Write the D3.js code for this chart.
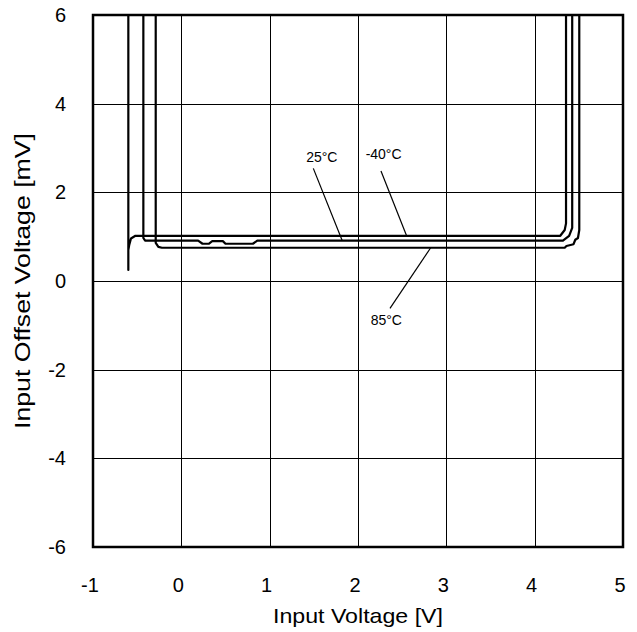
<!DOCTYPE html>
<html>
<head>
<meta charset="utf-8">
<title>Input Offset Voltage vs Input Voltage</title>
<script src="https://d3js.org/d3.v7.min.js"></script>
<style>
body { margin: 0; background: #fff; }
text { font-family: "Liberation Sans", Arial, sans-serif; fill: #000; }
.grid line { stroke: #000; stroke-width: 1px; shape-rendering: crispEdges; }
.frame { fill: none; stroke: #000; stroke-width: 2.5px; }
.curve { fill: none; stroke: #000; stroke-width: 2.2px; stroke-linejoin: round; }
.leader { stroke: #000; stroke-width: 1.2px; }
</style>
</head>
<body>
<script>
// axis ticks
var xTicks = [-1, 0, 1, 2, 3, 4, 5];
var yTicks = [-6, -4, -2, 0, 2, 4, 6];

// -40C
var vinM40 = [-0.6, -0.6, -0.6, -0.59, -0.57, -0.52, 4.29, 4.34, 4.355, 4.355];
var vosM40 = [6, 0.25, 0.7, 0.81, 0.96, 1.02, 1.02, 1.15, 1.3, 6];
// 25C
var vin25 = [-0.43, -0.43, -0.41, 0.19, 0.24, 0.31, 0.35, 0.47, 0.5, 0.81, 0.86, 4.32, 4.39, 4.425, 4.425];
var vos25 = [6, 0.97, 0.91, 0.91, 0.84, 0.84, 0.9, 0.9, 0.84, 0.84, 0.91, 0.91, 1.02, 1.2, 6];
// 85C
var vin85 = [-0.29, -0.29, -0.26, -0.22, 4.34, 4.36, 4.44, 4.46, 4.49, 4.505, 4.505];
var vos85 = [6, 0.86, 0.77, 0.75, 0.75, 0.79, 0.83, 0.93, 0.97, 1.15, 6];

// labels: text, text position, leader start, leader end (data coords)
var labelText = ["25\u00B0C", "-40\u00B0C", "85\u00B0C"];
var labelPos = [[1.59, 2.68], [2.29, 2.76], [2.32, -1.0]];
var leaderFrom = [[1.494, 2.54], [2.26, 2.48], [2.362, -0.616]];
var leaderTo = [[1.822, 0.91], [2.55, 1.02], [2.823, 0.75]];

var width = 637, height = 632;
var margin = {left: 93, right: 14, top: 15, bottom: 85};

var svg = d3.select("body").append("svg")
    .attr("width", width)
    .attr("height", height);

var x = d3.scaleLinear().domain([-1, 5]).range([margin.left, width - margin.right]);
var y = d3.scaleLinear().domain([-6, 6]).range([height - margin.bottom, margin.top]);

// grid
var grid = svg.append("g").attr("class", "grid");
grid.selectAll("line.v")
    .data(xTicks.slice(1, -1))
  .enter().append("line")
    .attr("x1", function(d) { return Math.round(x(d)) + 0.5; })
    .attr("x2", function(d) { return Math.round(x(d)) + 0.5; })
    .attr("y1", y(6)).attr("y2", y(-6));
grid.selectAll("line.h")
    .data(yTicks.slice(1, -1))
  .enter().append("line")
    .attr("y1", function(d) { return Math.round(y(d)) + 0.5; })
    .attr("y2", function(d) { return Math.round(y(d)) + 0.5; })
    .attr("x1", x(-1)).attr("x2", x(5));

// curves
var line = d3.line()
    .x(function(d) { return x(d[0]); })
    .y(function(d) { return y(d[1]); });

var series = [[vinM40, vosM40], [vin25, vos25], [vin85, vos85]];
svg.append("g").selectAll("path")
    .data(series)
  .enter().append("path")
    .attr("class", "curve")
    .attr("d", function(s) { return line(d3.zip(s[0], s[1])); });

svg.append("rect")
    .attr("class", "frame")
    .attr("x", x(-1)).attr("y", y(6))
    .attr("width", x(5) - x(-1))
    .attr("height", y(-6) - y(6));

// tick labels
svg.append("g").selectAll("text")
    .data(xTicks)
  .enter().append("text")
    .attr("x", function(d) { return x(d) - 3; })
    .attr("y", 592)
    .attr("text-anchor", "middle")
    .style("font-size", "20px")
    .text(function(d) { return d; });

svg.append("g").selectAll("text")
    .data(yTicks)
  .enter().append("text")
    .attr("x", 66)
    .attr("y", function(d) { return y(d) + 7; })
    .attr("text-anchor", "end")
    .style("font-size", "20px")
    .text(function(d) { return d; });

// axis titles
svg.append("text")
    .attr("x", 358).attr("y", 623)
    .attr("text-anchor", "middle")
    .attr("textLength", 170)
    .attr("lengthAdjust", "spacingAndGlyphs")
    .style("font-size", "21px")
    .text("Input Voltage [V]");

svg.append("text")
    .attr("transform", "translate(30," + y(0) + ") rotate(-90)")
    .attr("text-anchor", "middle")
    .attr("textLength", 296)
    .attr("lengthAdjust", "spacingAndGlyphs")
    .style("font-size", "22px")
    .text("Input Offset Voltage [mV]");

// annotations
var ann = svg.append("g");
ann.selectAll("line")
    .data(d3.range(labelText.length))
  .enter().append("line")
    .attr("class", "leader")
    .attr("x1", function(i) { return x(leaderFrom[i][0]); })
    .attr("y1", function(i) { return y(leaderFrom[i][1]); })
    .attr("x2", function(i) { return x(leaderTo[i][0]); })
    .attr("y2", function(i) { return y(leaderTo[i][1]); });
ann.selectAll("text")
    .data(d3.range(labelText.length))
  .enter().append("text")
    .attr("x", function(i) { return x(labelPos[i][0]); })
    .attr("y", function(i) { return y(labelPos[i][1]); })
    .attr("text-anchor", "middle")
    .style("font-size", "14px")
    .text(function(i) { return labelText[i]; });
</script>
</body>
</html>
